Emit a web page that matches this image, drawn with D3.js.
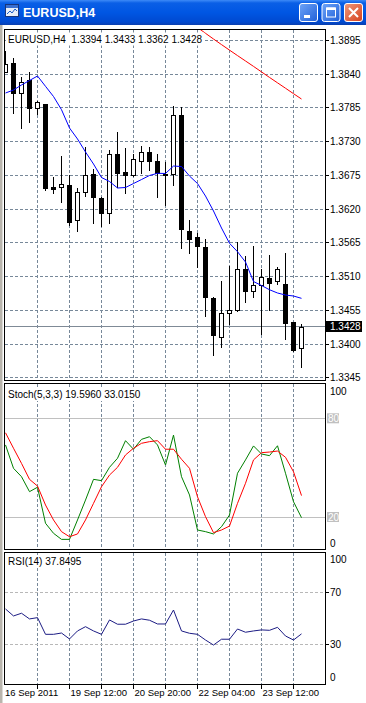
<!DOCTYPE html>
<head>
<meta charset="utf-8">
<title>EURUSD,H4</title>
<style>
body {
  margin: 0;
  background: #fff;
  overflow: hidden;
}
text {
  font: 10px "Liberation Sans", Arial, sans-serif;
  fill: #000;
}
.grid line {
  stroke: #778899;
  stroke-dasharray: 3,2;
  shape-rendering: crispEdges;
}
.frame {
  fill: none;
  stroke: #000;
  shape-rendering: crispEdges;
}
.candle line, .candle rect, .tick {
  stroke: #000;
  shape-rendering: crispEdges;
}
.ind {
  fill: none;
  stroke-width: 1;
}
.time text {
  font-size: 9.5px;
}
</style>
<script src="https://d3js.org/d3.v7.min.js"></script>
</head>
<body>
<script>
"use strict";

// bars are H4, one every 8px; labels sit on every 8th bar
var timeBars = [0, 8, 16, 24, 32];
var timeLabels = ["16 Sep 2011", "19 Sep 12:00", "20 Sep 20:00", "22 Sep 04:00", "23 Sep 12:00"];
var gridBars = [4, 8, 12, 16, 20, 24, 28, 32, 36];

var opens  = [1.3844, 1.3858, 1.3809, 1.3830, 1.3784, 1.3791, 1.3656, 1.3656, 1.3659, 1.3602,
              1.3647, 1.3677, 1.3638, 1.3613, 1.3709, 1.3680, 1.3675, 1.3699, 1.3713, 1.3698,
              1.3677, 1.3677, 1.3773, 1.3585, 1.3574, 1.3558, 1.3475, 1.3412, 1.3450, 1.3456,
              1.3522, 1.3487, 1.3497, 1.3507, 1.3502, 1.3498, 1.3436, 1.3394];
var highs  = [1.3877, 1.3866, 1.3835, 1.3844, 1.3796, 1.3792, 1.3673, 1.3706, 1.3676, 1.3654,
              1.3721, 1.3686, 1.3640, 1.3717, 1.3746, 1.3719, 1.3709, 1.3722, 1.3721, 1.3709,
              1.3697, 1.3788, 1.3787, 1.3602, 1.3581, 1.3571, 1.3476, 1.3503, 1.3528, 1.3566,
              1.3544, 1.3559, 1.3522, 1.3545, 1.3526, 1.3548, 1.3436, 1.3433];
var lows   = [1.3843, 1.3776, 1.3752, 1.3762, 1.3775, 1.3651, 1.3646, 1.3632, 1.3594, 1.3585,
              1.3641, 1.3598, 1.3592, 1.3597, 1.3656, 1.3646, 1.3674, 1.3678, 1.3683, 1.3640,
              1.3627, 1.3659, 1.3556, 1.3548, 1.3526, 1.3445, 1.3382, 1.3396, 1.3432, 1.3454,
              1.3469, 1.3477, 1.3416, 1.3456, 1.3498, 1.3408, 1.3388, 1.3362];
var closes = [1.3856, 1.3809, 1.3827, 1.3785, 1.3794, 1.3655, 1.3653, 1.3661, 1.3599, 1.3647,
              1.3676, 1.3639, 1.3613, 1.3709, 1.3679, 1.3675, 1.3701, 1.3713, 1.3699, 1.3679,
              1.3676, 1.3773, 1.3587, 1.3572, 1.3559, 1.3476, 1.3414, 1.3450, 1.3456, 1.3523,
              1.3487, 1.3497, 1.3509, 1.3500, 1.3522, 1.3435, 1.3391, 1.3428];

// blue moving average, one value per bar
var maFast = [1.38091, 1.38140, 1.38222, 1.38295, 1.38368, 1.38200, 1.38034, 1.37819, 1.37521, 1.37342,
              1.37130, 1.36934, 1.36714, 1.36649, 1.36543, 1.36551, 1.36616, 1.36681, 1.36747, 1.36782,
              1.36780, 1.36901, 1.36893, 1.36738, 1.36616, 1.36412, 1.36168, 1.35891, 1.35642, 1.35505,
              1.35337, 1.35019, 1.34954, 1.34885, 1.34832, 1.34799, 1.34783, 1.34745];
// red moving average, only comes into view from bar 24
var maSlowFrom = 24;
var maSlow = [1.39159, 1.39064, 1.38971, 1.38880, 1.38790, 1.38701, 1.38613,
              1.38525, 1.38435, 1.38345, 1.38257, 1.38169, 1.38080, 1.37993];

var stochMain   = [63.8, 49.6, 44.5, 35.4, 38.1, 16.2, 10.1, 6.4, 6.4, 18.2,
                   30.3, 42.9, 42.1, 50.2, 55.7, 66.4, 61.2, 67.2, 68.8, 63.8,
                   51.6, 69.8, 44.5, 33.4, 12.1, 11.1, 9.7, 14.1, 21.2, 46.6,
                   54.7, 63.2, 58.3, 57.3, 63.3, 46.6, 29.3, 19.5960];
var stochSignal = [71.2, 61.8, 52.6, 42.9, 38.8, 27.3, 18.2, 11.1, 8.0, 9.7,
                   18.2, 28.3, 38.4, 45.5, 50.2, 57.7, 61.8, 64.8, 65.8, 66.4,
                   61.2, 61.2, 55.1, 49.6, 32.3, 20.2, 10.5, 12.1, 14.5, 28.3,
                   40.5, 54.7, 59.1, 59.5, 60.1, 56.3, 47.5, 33.0150];
var rsi = [57.1, 51.7, 53.8, 49.4, 50.4, 37.5, 37.5, 38.5, 33.9, 40.1,
           43.4, 40.1, 37.5, 48.6, 45.3, 45.3, 47.8, 49.4, 48.4, 45.5,
           45.5, 56.3, 40.1, 38.3, 37.5, 33.1, 29.2, 33.7, 33.7, 41.6,
           39.1, 40.1, 40.9, 40.6, 42.9, 36.2, 33.1, 37.8495];

var priceTicks = [1.3895, 1.3840, 1.3785, 1.3730, 1.3675, 1.3620, 1.3565, 1.3510, 1.3455, 1.3400, 1.3345];
var stochLevels = [80, 20];
var rsiLevels = [70, 30];

var W = 366, H = 703;
var left = 4.5, right = 325.5;
var main = {top: 29.5, bottom: 380.5},
    stoch = {top: 383.5, bottom: 549.5},
    rsiP = {top: 552.5, bottom: 684.5};

var n = closes.length;
var last = n - 1;

var x = d3.scaleLinear().domain([0, 40]).range([5.5, 325.5]);
var y = d3.scaleLinear().domain([1.3345, 1.3895]).range([377.8, 40.3]);
var ys = d3.scaleLinear().domain([0, 100]).range([549.9, 385.4]);
var yr = d3.scaleLinear().domain([0, 100]).range([682.8, 553.5]);

function crisp(v) { return Math.floor(v) + 0.5; }

var svg = d3.select("body").append("svg")
    .attr("width", W)
    .attr("height", H);

var defs = svg.append("defs");
var tg = defs.append("linearGradient").attr("id", "titlebar")
    .attr("x1", 0).attr("y1", 0).attr("x2", 0).attr("y2", 1);
tg.append("stop").attr("offset", "0").attr("stop-color", "#3d8af7");
tg.append("stop").attr("offset", "0.12").attr("stop-color", "#0a5fe6");
tg.append("stop").attr("offset", "0.5").attr("stop-color", "#0056e3");
tg.append("stop").attr("offset", "0.88").attr("stop-color", "#0049d0");
tg.append("stop").attr("offset", "1").attr("stop-color", "#0a3fae");

var bg = defs.append("linearGradient").attr("id", "btn")
    .attr("x1", 0).attr("y1", 0).attr("x2", 1).attr("y2", 1);
bg.append("stop").attr("offset", "0").attr("stop-color", "#6ea4f8");
bg.append("stop").attr("offset", "1").attr("stop-color", "#1f5fd8");
var cg = defs.append("linearGradient").attr("id", "btnclose")
    .attr("x1", 0).attr("y1", 0).attr("x2", 1).attr("y2", 1);
cg.append("stop").attr("offset", "0").attr("stop-color", "#f09a7c");
cg.append("stop").attr("offset", "1").attr("stop-color", "#d5401c");

[main, stoch, rsiP].forEach(function(p, i) {
  defs.append("clipPath").attr("id", "clip" + i)
    .append("rect")
      .attr("x", left + 0.5).attr("y", p.top + 0.5)
      .attr("width", right - left - 1).attr("height", p.bottom - p.top - 1);
});

// ---- window chrome ----
svg.append("rect")
    .attr("x", 0).attr("y", 0).attr("width", W).attr("height", 25)
    .attr("fill", "url(#titlebar)");

var icon = svg.append("g").attr("transform", "translate(5,4)");
icon.append("rect").attr("x", 0.5).attr("y", 0.5).attr("width", 13).attr("height", 12)
    .attr("fill", "#e8eef8").attr("stroke", "#19357a");
icon.append("rect").attr("x", 1).attr("y", 1).attr("width", 12).attr("height", 3)
    .attr("fill", "#3a6fd0");
icon.append("polyline").attr("points", "2,10 5,7 7,9 10,5 12,7")
    .attr("fill", "none").attr("stroke", "#1a5cc8");

svg.append("text")
    .attr("x", 23).attr("y", 13)
    .attr("dy", "0.35em")
    .style("font", "bold 12.5px 'Liberation Sans', Arial, sans-serif")
    .style("fill", "#fff")
    .text("EURUSD,H4");

var buttons = [{x: 299, kind: "min"}, {x: 321.5, kind: "max"}, {x: 344, kind: "close"}];
buttons.forEach(function(b) {
  var g = svg.append("g").attr("transform", "translate(" + b.x + ",3)");
  g.append("rect")
      .attr("x", 0.5).attr("y", 0.5).attr("width", 18).attr("height", 18)
      .attr("rx", 2.5)
      .attr("fill", b.kind == "close" ? "url(#btnclose)" : "url(#btn)")
      .attr("stroke", "#fff");
  if (b.kind == "min") {
    g.append("rect").attr("x", 5).attr("y", 12).attr("width", 6).attr("height", 3).attr("fill", "#fff");
  } else if (b.kind == "max") {
    g.append("rect").attr("x", 5).attr("y", 5).attr("width", 9).attr("height", 9)
        .attr("fill", "none").attr("stroke", "#fff").attr("stroke-width", 1);
    g.append("rect").attr("x", 5).attr("y", 4.5).attr("width", 9).attr("height", 2.5).attr("fill", "#fff");
  } else {
    g.append("path").attr("d", "M5,5 L14,14 M14,5 L5,14")
        .attr("stroke", "#fff").attr("stroke-width", 2);
  }
});

svg.append("rect")
    .attr("x", 0).attr("y", 25).attr("width", 2.5).attr("height", H - 25)
    .attr("fill", "#b9b5ad");

// ---- vertical grid in each panel ----
[main, stoch, rsiP].forEach(function(p) {
  svg.append("g").attr("class", "grid")
    .selectAll("line")
    .data(gridBars)
    .enter().append("line")
      .attr("x1", function(d) { return x(d); })
      .attr("x2", function(d) { return x(d); })
      .attr("y1", p.top)
      .attr("y2", p.bottom);
});

// ---- main panel ----
svg.append("g").attr("class", "grid")
  .selectAll("line")
  .data(priceTicks)
  .enter().append("line")
    .attr("x1", left)
    .attr("x2", right)
    .attr("y1", function(d) { return crisp(y(d)); })
    .attr("y2", function(d) { return crisp(y(d)); });

svg.append("line")
    .attr("x1", left).attr("x2", right)
    .attr("y1", crisp(y(closes[last]))).attr("y2", crisp(y(closes[last])))
    .attr("stroke", "#7f8a96")
    .style("shape-rendering", "crispEdges");

var candles = svg.append("g")
    .attr("class", "candle")
    .attr("clip-path", "url(#clip0)")
  .selectAll("g")
    .data(d3.range(n))
  .enter().append("g");

candles.append("line")
    .attr("x1", function(i) { return x(i); })
    .attr("x2", function(i) { return x(i); })
    .attr("y1", function(i) { return Math.round(y(highs[i])); })
    .attr("y2", function(i) { return Math.round(y(lows[i])) + 1; });

candles.append("rect")
    .attr("x", function(i) { return x(i) - 2; })
    .attr("y", function(i) { return Math.round(y(Math.max(opens[i], closes[i]))) + 0.5; })
    .attr("width", 4)
    .attr("height", function(i) {
      return Math.max(Math.round(y(Math.min(opens[i], closes[i]))) - Math.round(y(Math.max(opens[i], closes[i]))), 0);
    })
    .attr("fill", function(i) { return closes[i] >= opens[i] ? "#fff" : "#000"; });

var lineFast = d3.line()
    .x(function(d, i) { return x(i); })
    .y(function(d) { return y(d); });
var lineSlow = d3.line()
    .x(function(d, i) { return x(i + maSlowFrom); })
    .y(function(d) { return y(d); });

svg.append("path")
    .datum(maFast)
    .attr("class", "ind")
    .attr("clip-path", "url(#clip0)")
    .attr("d", lineFast)
    .attr("stroke", "#0000ff");

svg.append("path")
    .datum(maSlow)
    .attr("class", "ind")
    .attr("clip-path", "url(#clip0)")
    .attr("d", lineSlow)
    .attr("stroke", "#ff0000");

// ---- stochastic panel ----
svg.append("g")
  .selectAll("line")
  .data(stochLevels)
  .enter().append("line")
    .attr("x1", left).attr("x2", right)
    .attr("y1", function(d) { return crisp(ys(d)); })
    .attr("y2", function(d) { return crisp(ys(d)); })
    .attr("stroke", "#c0c0c0")
    .style("shape-rendering", "crispEdges");

var lineStoch = d3.line()
    .x(function(d, i) { return x(i); })
    .y(function(d) { return ys(d); });

svg.append("path")
    .datum(stochMain)
    .attr("class", "ind")
    .attr("clip-path", "url(#clip1)")
    .attr("d", lineStoch)
    .attr("stroke", "#008000");

svg.append("path")
    .datum(stochSignal)
    .attr("class", "ind")
    .attr("clip-path", "url(#clip1)")
    .attr("d", lineStoch)
    .attr("stroke", "#ff0000");

// ---- RSI panel ----
svg.append("g").attr("class", "grid")
  .selectAll("line")
  .data(rsiLevels)
  .enter().append("line")
    .attr("x1", left).attr("x2", right)
    .attr("y1", function(d) { return crisp(yr(d)); })
    .attr("y2", function(d) { return crisp(yr(d)); })
    .style("stroke", "#b8b8b8");

svg.append("path")
    .datum(rsi)
    .attr("class", "ind")
    .attr("clip-path", "url(#clip2)")
    .attr("d", d3.line()
        .x(function(d, i) { return x(i); })
        .y(function(d) { return yr(d); }))
    .attr("stroke", "#1c1c84");

// ---- panel borders ----
[main, stoch, rsiP].forEach(function(p) {
  svg.append("rect")
      .attr("class", "frame")
      .attr("x", left).attr("y", p.top)
      .attr("width", right - left).attr("height", p.bottom - p.top);
});

// ---- panel headers (opaque, they hide the grid) ----
function header(txt, yc) {
  var g = svg.append("g");
  var bgRect = g.append("rect").attr("fill", "#fff");
  var t = g.append("text")
      .attr("x", 8).attr("y", yc)
      .attr("dy", "0.35em")
      .style("white-space", "pre")
      .text(txt);
  var bb = t.node().getBBox();
  bgRect.attr("x", bb.x - 2).attr("y", bb.y - 1)
      .attr("width", bb.width + 4).attr("height", bb.height + 2);
}

header("EURUSD,H4  " + [opens[last], highs[last], lows[last], closes[last]]
    .map(function(d) { return d.toFixed(4); }).join(" "), 39);
header("Stoch(5,3,3) " + stochMain[last].toFixed(4) + " " + stochSignal[last].toFixed(4), 394.5);
header("RSI(14) " + rsi[last].toFixed(4), 561.5);

// ---- right-hand scales ----
var priceAxis = svg.append("g");
priceAxis.selectAll("line")
    .data(priceTicks)
  .enter().append("line")
    .attr("class", "tick")
    .attr("x1", right).attr("x2", right + 3)
    .attr("y1", function(d) { return crisp(y(d)); })
    .attr("y2", function(d) { return crisp(y(d)); });
priceAxis.selectAll("text")
    .data(priceTicks)
  .enter().append("text")
    .attr("x", 330)
    .attr("y", function(d) { return y(d); })
    .attr("dy", "0.35em")
    .text(function(d) { return d.toFixed(4); });

// last price marker
svg.append("rect")
    .attr("x", right + 0.5).attr("y", crisp(y(closes[last])) - 5.5)
    .attr("width", 36).attr("height", 11)
    .attr("fill", "#000");
svg.append("text")
    .attr("x", 330).attr("y", y(closes[last]))
    .attr("dy", "0.35em")
    .style("fill", "#fff")
    .text(closes[last].toFixed(4));

// stochastic scale: 100 and 0 sit just inside the panel, levels in grey boxes
svg.append("text").attr("x", 330).attr("y", ys(100) + 6.3).attr("dy", "0.35em").text("100");
svg.append("text").attr("x", 330).attr("y", ys(0) - 6.5).attr("dy", "0.35em").text("0");
stochLevels.forEach(function(v) {
  svg.append("rect")
      .attr("x", 327).attr("y", ys(v) - 5)
      .attr("width", 12).attr("height", 10)
      .attr("fill", "#c0c0c0");
  svg.append("text")
      .attr("x", 328).attr("y", ys(v))
      .attr("dy", "0.35em")
      .style("fill", "#fff")
      .text(v);
});

svg.append("text").attr("x", 330).attr("y", yr(100) + 6.2).attr("dy", "0.35em").text("100");
svg.append("text").attr("x", 330).attr("y", yr(0) - 5).attr("dy", "0.35em").text("0");
rsiLevels.forEach(function(v) {
  svg.append("line")
      .attr("class", "tick")
      .attr("x1", right).attr("x2", right + 3)
      .attr("y1", crisp(yr(v))).attr("y2", crisp(yr(v)));
  svg.append("text")
      .attr("x", 330).attr("y", yr(v))
      .attr("dy", "0.35em")
      .text(v);
});

// ---- time scale ----
svg.append("g")
  .selectAll("line")
  .data(gridBars)
  .enter().append("line")
    .attr("class", "tick")
    .attr("x1", function(d) { return x(d); })
    .attr("x2", function(d) { return x(d); })
    .attr("y1", rsiP.bottom)
    .attr("y2", rsiP.bottom + 4);

svg.append("g")
    .attr("class", "time")
  .selectAll("text")
  .data(timeBars)
  .enter().append("text")
    .attr("x", function(d, i) { return i == 0 ? x(d) - 0.5 : x(d) + 1; })
    .attr("y", 693)
    .attr("dy", "0.35em")
    .text(function(d, i) { return timeLabels[i]; });

</script>
</body>
